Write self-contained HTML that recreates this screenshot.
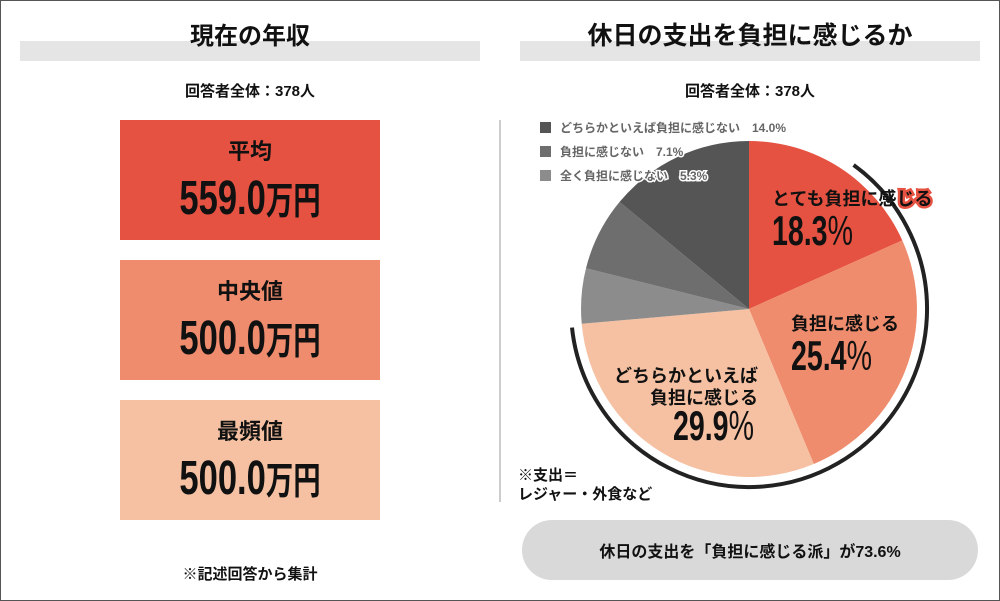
<!DOCTYPE html>
<html><head><meta charset="utf-8"><style>
body{margin:0;width:1000px;height:601px;background:#fff;font-family:"Liberation Sans","Noto Sans CJK JP",sans-serif;position:relative;overflow:hidden}
.abs{position:absolute}
.frame{left:0;top:0;width:998px;height:599px;border:1px solid #555}
.bar{background:#e5e5e5;height:20px;top:41px}
.title{top:16px;font-size:24px;font-weight:bold;text-align:center;color:#111}
.sub{font-size:15px;font-weight:bold;text-align:center;color:#111}
.box{left:120px;width:260px;height:120px;text-align:center;color:#111}
.box .l{position:absolute;top:14px;width:100%;font-size:22px;font-weight:bold}
.box .n{position:absolute;top:50px;width:100%;font-size:48px;font-weight:bold;transform:scaleX(0.72);white-space:nowrap}
.box .n span{font-size:38px}
</style></head><body>
<div class="abs frame"></div>
<div class="abs bar" style="left:20px;width:460px"></div>
<div class="abs bar" style="left:520px;width:460px"></div>
<div class="abs title" style="left:20px;width:460px">現在の年収</div>
<div class="abs title" style="left:520px;width:460px;font-size:25px">休日の支出を負担に感じるか</div>
<div class="abs sub" style="left:20px;width:460px;top:80px">回答者全体：378人</div>
<div class="abs sub" style="left:520px;width:460px;top:80px">回答者全体：378人</div>
<div class="abs box" style="top:120px;background:#e65241"><div class="l">平均</div><div class="n">559.0<span>万円</span></div></div>
<div class="abs box" style="top:260px;background:#ef8c6d"><div class="l">中央値</div><div class="n">500.0<span>万円</span></div></div>
<div class="abs box" style="top:400px;background:#f5c1a2"><div class="l">最頻値</div><div class="n">500.0<span>万円</span></div></div>
<div class="abs sub" style="left:20px;width:460px;top:563px">※記述回答から集計</div>
<div class="abs" style="left:499px;top:120px;width:2px;height:382px;background:#ccc"></div>
<svg class="abs" style="left:0;top:0" width="1000" height="601">
<path d="M749,309 L749,141 A168,168 0 0 1 902.3,240.4Z" fill="#e65241"/>
<path d="M749,309 L902.3,240.4 A168,168 0 0 1 813.8,464Z" fill="#ef8c6d"/>
<path d="M749,309 L813.8,464 A168,168 0 0 1 581.7,323.8Z" fill="#f5c1a2"/>
<path d="M749,309 L581.7,323.8 A168,168 0 0 1 586,268.2Z" fill="#8c8c8c"/>
<path d="M749,309 L586,268.2 A168,168 0 0 1 619.6,201.9Z" fill="#6e6e6e"/>
<path d="M749,309 L619.6,201.9 A168,168 0 0 1 749,141Z" fill="#555"/>
<path d="M853.6,165 A178,178 0 1 1 572,327.6" fill="none" stroke="#222" stroke-width="4"/>
<rect x="540" y="122" width="11" height="11" fill="#555"/>
<rect x="540" y="146" width="11" height="11" fill="#6e6e6e"/>
<rect x="540" y="170" width="11" height="11" fill="#8c8c8c"/>
<g font-size="12" font-weight="bold" fill="#666" stroke="#fff" stroke-width="3" paint-order="stroke">
<text x="560" y="132">どちらかといえば負担に感じない　14.0%</text>
<text x="560" y="156">負担に感じない　7.1%</text>
<text x="560" y="180">全く負担に感じない　5.3%</text>
</g>
<g font-weight="bold" fill="#111">
<text x="772" y="205" font-size="18">とても負担に感<tspan stroke="#e65241" stroke-width="5" paint-order="stroke">じる</tspan></text>
<text x="772" y="245" font-size="42" transform="translate(772 0) scale(0.68 1) translate(-772 0)">18.3<tspan font-weight="normal">%</tspan></text>
<text x="791" y="330" font-size="18">負担に感じる</text>
<text x="791" y="370" font-size="42" transform="translate(791 0) scale(0.68 1) translate(-791 0)">25.4<tspan font-weight="normal">%</tspan></text>
<text x="758" y="382" font-size="18" text-anchor="end">どちらかといえば</text>
<text x="758" y="404" font-size="18" text-anchor="end">負担に感じる</text>
<text x="673" y="440" font-size="42" transform="translate(673 0) scale(0.68 1) translate(-673 0)">29.9<tspan font-weight="normal">%</tspan></text>
<text x="518" y="480" font-size="15">※支出＝</text>
<text x="518" y="499" font-size="15">レジャー・外食など</text>
</g>
<rect x="522" y="520" width="456" height="60" rx="30" fill="#d9d9d9"/>
<text x="750" y="557" font-size="16" font-weight="bold" fill="#111" text-anchor="middle">休日の支出を「負担に感じる派」が73.6%</text>
</svg>
</body></html>
